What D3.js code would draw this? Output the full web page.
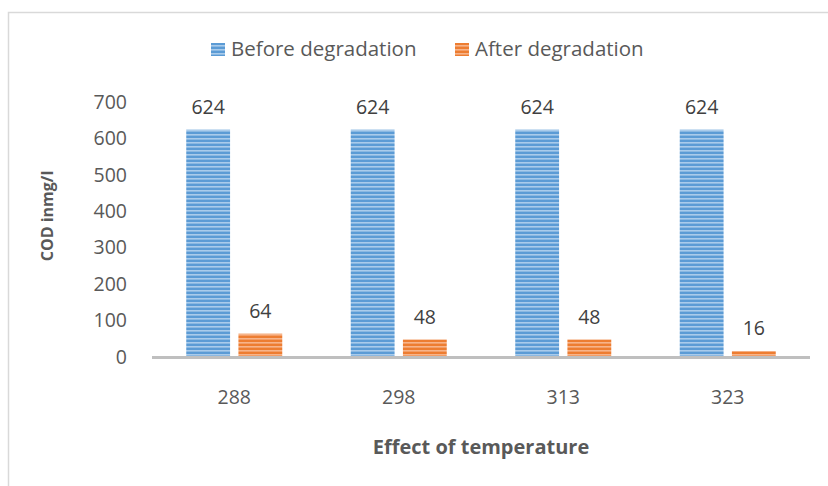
<!DOCTYPE html>
<html>
<head>
<meta charset="utf-8">
<script src="https://cdn.jsdelivr.net/npm/d3@7"></script>
<style>
  body { margin: 0; background: #fff; }
  svg { display: block; font-family: "Open Sans", sans-serif; }
</style>
</head>
<body>
<div class="chart"></div>
<script>
const width = 828,
    height = 486;

const categories = ["288", "298", "313", "323"];
const seriesNames = ["Before degradation", "After degradation"];
const beforeValues = [624, 624, 624, 624];
const afterValues = [64, 48, 48, 16];
const yTicks = [0, 100, 200, 300, 400, 500, 600, 700];

const colors = {
  "Before degradation": ["#5b9bd5", "#a9cbeb"],
  "After degradation": ["#ed7d31", "#f7b48a"]
};

const rows = categories.map((c, i) => ({
  cat: c,
  values: [
    {key: seriesNames[0], value: beforeValues[i]},
    {key: seriesNames[1], value: afterValues[i]}
  ]
}));

const svg = d3.select(".chart").append("svg")
    .attr("width", width)
    .attr("height", height);

// striped fills
const defs = svg.append("defs");
seriesNames.forEach((s, i) => {
  const p = defs.append("pattern")
      .attr("id", "stripe" + i)
      .attr("patternUnits", "userSpaceOnUse")
      .attr("width", 8)
      .attr("height", 4);
  p.append("rect").attr("width", 8).attr("height", 4).attr("fill", colors[s][0]);
  p.append("rect").attr("y", 2).attr("width", 8).attr("height", 1.6).attr("fill", colors[s][1]);
});

// outer frame
svg.append("path")
    .attr("d", "M8.5,486 V12.5 H828")
    .attr("fill", "none")
    .attr("stroke", "#d9d9d9")
    .attr("stroke-width", 1.5);

const x0 = d3.scaleBand()
    .domain(categories)
    .range([152, 810])
    .paddingInner(0.4164)
    .paddingOuter(0.2082);

const x1 = d3.scaleBand()
    .domain(seriesNames)
    .range([0, x0.bandwidth()])
    .paddingInner(0.16);

const y = d3.scaleLinear()
    .domain([0, 700])
    .range([357, 102]);

// y tick labels
const yAxis = d3.axisLeft(y).tickValues(yTicks).tickSize(0).tickPadding(0);
const gy = svg.append("g")
    .attr("transform", "translate(127,0)")
    .call(yAxis);
gy.select(".domain").remove();
gy.selectAll("text")
    .attr("font-family", "Open Sans")
    .attr("font-size", 19.5)
    .attr("fill", "#595959");

// bars
const groups = svg.append("g").selectAll("g")
    .data(rows)
    .join("g")
    .attr("transform", d => `translate(${x0(d.cat)},0)`);

groups.selectAll("rect")
    .data(d => d.values)
    .join("rect")
    .attr("x", d => x1(d.key))
    .attr("y", d => y(d.value))
    .attr("width", x1.bandwidth())
    .attr("height", d => y(0) - y(d.value))
    .attr("fill", d => `url(#stripe${seriesNames.indexOf(d.key)})`);

groups.selectAll("text.lbl")
    .data(d => d.values)
    .join("text")
    .attr("class", "lbl")
    .attr("x", d => x1(d.key) + x1.bandwidth() / 2)
    .attr("y", d => y(d.value) - 16)
    .attr("text-anchor", "middle")
    .attr("font-size", 19.5)
    .attr("fill", "#404040")
    .text(d => d.value);

// x axis
const xAxis = d3.axisBottom(x0).tickSize(0).tickPadding(0);
const gx = svg.append("g")
    .attr("transform", "translate(0,357)")
    .call(xAxis);
gx.select(".domain")
    .attr("d", "M152,0.5H810")
    .attr("stroke", "#bfbfbf")
    .attr("stroke-width", 3);
gx.selectAll("text")
    .attr("y", 47)
    .attr("dy", null)
    .attr("font-family", "Open Sans")
    .attr("font-size", 19.5)
    .attr("fill", "#595959");

// axis titles
svg.append("text")
    .attr("x", 481)
    .attr("y", 454)
    .attr("text-anchor", "middle")
    .attr("font-size", 20)
    .attr("font-weight", "bold")
    .attr("fill", "#595959")
    .text("Effect of temperature");

svg.append("text")
    .attr("transform", "translate(53,216) rotate(-90)")
    .attr("text-anchor", "middle")
    .attr("font-size", 16)
    .attr("font-weight", "bold")
    .attr("fill", "#595959")
    .text("COD inmg/l");

// legend
const legendX = [211, 455];
const legend = svg.append("g").selectAll("g")
    .data(seriesNames)
    .join("g")
    .attr("transform", (d, i) => `translate(${legendX[i]},43)`);
legend.append("rect")
    .attr("width", 14)
    .attr("height", 13)
    .attr("fill", (d, i) => `url(#stripe${i})`);
legend.append("text")
    .attr("x", 20)
    .attr("y", 13)
    .attr("font-size", 20.5)
    .attr("fill", "#595959")
    .text(d => d);
</script>
</body>
</html>
